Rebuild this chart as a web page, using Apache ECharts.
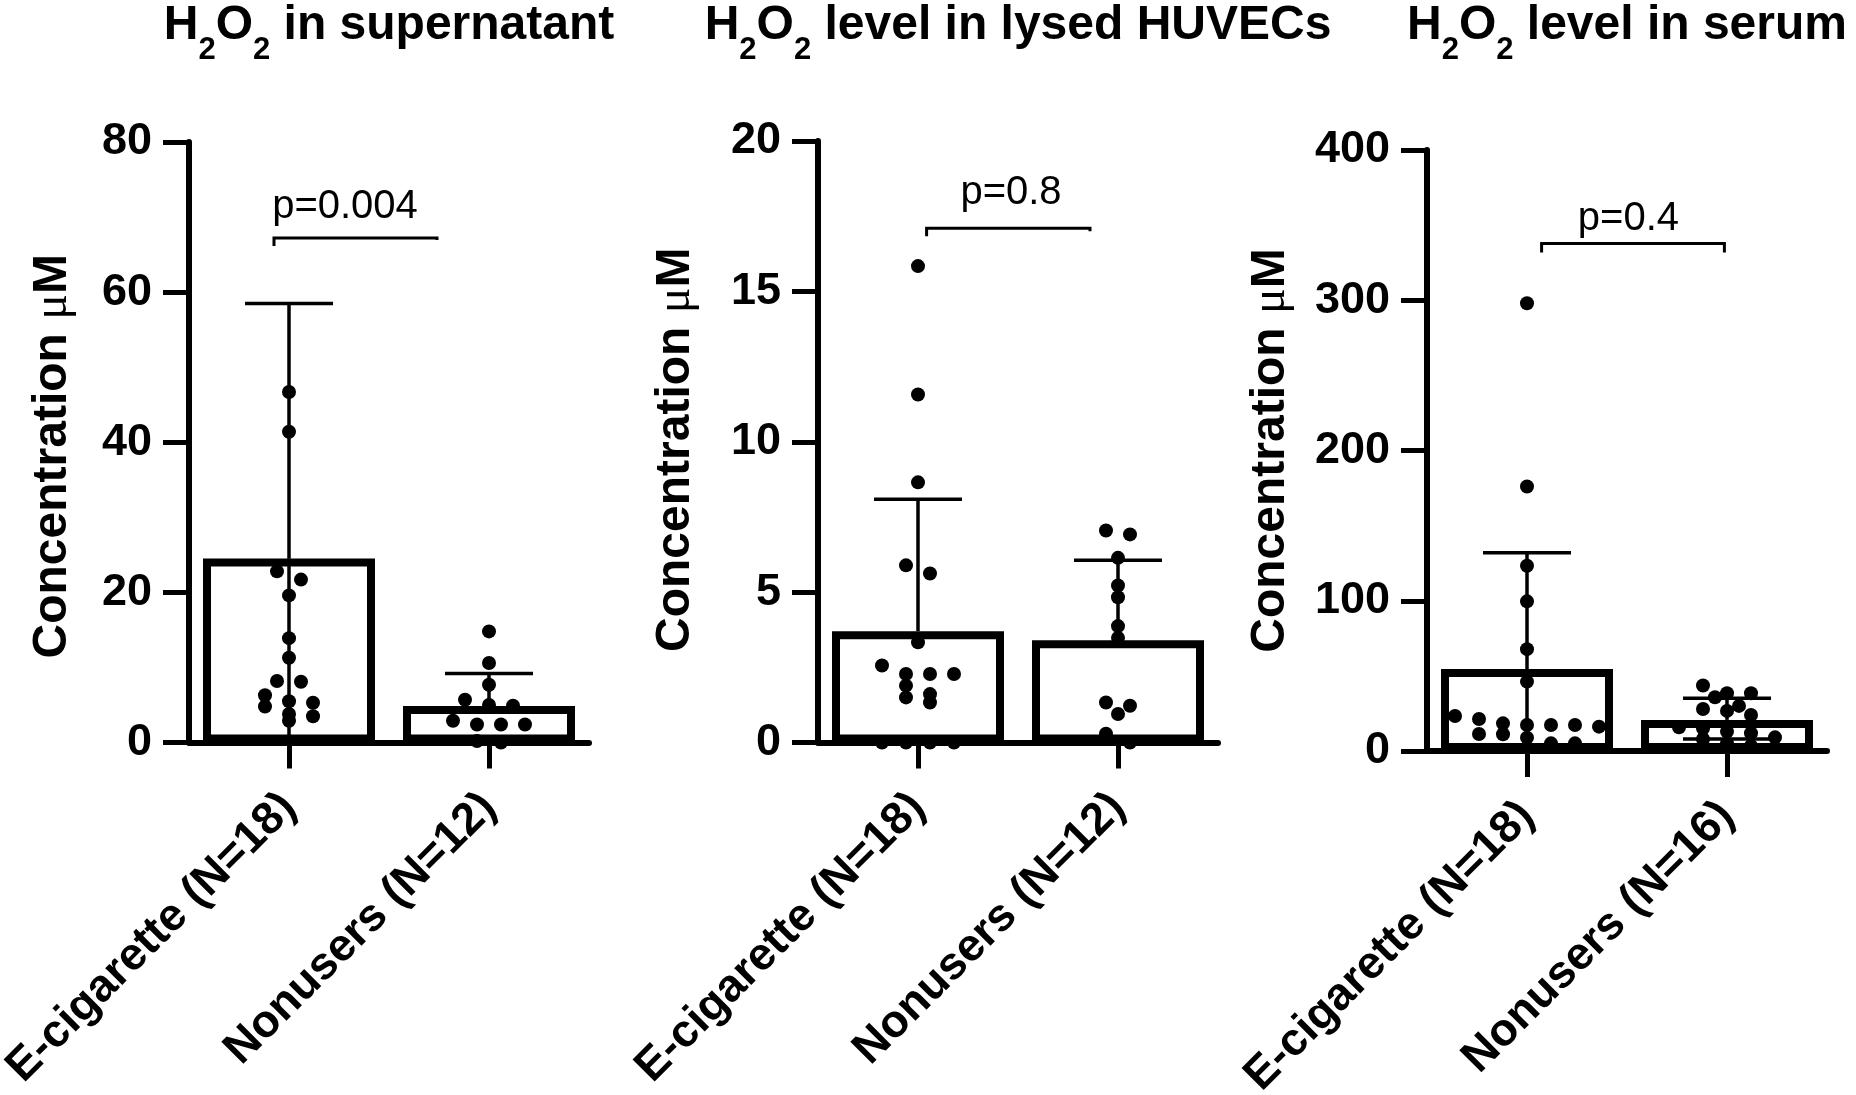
<!DOCTYPE html>
<html>
<head>
	<meta charset="UTF-8">
	<title>H2O2 levels</title>
	<script src="https://cdn.jsdelivr.net/npm/echarts@6/dist/echarts.min.js"></script>
	<style>
		html, body { margin: 0; padding: 0; background: #fff; }
		#main { width: 1856px; height: 1095px; }
	</style>
</head>
<body>
<div id="main"></div>
<script>
	// ---- values ----
	var titles = ['H2O2 in supernatant', 'H2O2 level in lysed HUVECs', 'H2O2 level in serum'];

	var catsSupernatant = ['E-cigarette (N=18)', 'Nonusers (N=12)'];
	var catsLysed = ['E-cigarette (N=18)', 'Nonusers (N=12)'];
	var catsSerum = ['E-cigarette (N=18)', 'Nonusers (N=16)'];

	var ticksSupernatant = [0, 20, 40, 60, 80];
	var ticksLysed = [0, 5, 10, 15, 20];
	var ticksSerum = [0, 100, 200, 300, 400];

	// supernatant
	var supEcig = [46.7, 41.4, 22.8, 21.7, 19.6, 13.9, 11.3, 8.2, 8.1, 6.3, 5.5, 5.3, 4.8, 3.8, 3.5, 2.9];
	var supNon = [14.8, 10.6, 7.7, 5.7, 5.0, 4.9, 2.9, 2.4, 2.4, 2.4, 0.2, 0];
	var supMean = [24.5, 4.87];
	var supErrHigh = [58.5, 9.2];
	var supErrLow = [0, null];
	var supP = 'p=0.004';

	// lysed HUVECs
	var lysEcig = [15.84, 11.57, 8.65, 5.89, 5.62, 3.33, 2.56, 2.28, 2.28, 2.28, 1.89, 1.61, 1.50, 1.33, 0, 0, 0, 0];
	var lysNon = [7.05, 6.92, 6.14, 5.22, 4.83, 3.87, 3.48, 1.33, 1.22, 0.95, 0.29, 0];
	var lysMean = [3.70, 3.40];
	var lysErrHigh = [8.09, 6.06];
	var lysErrLow = [null, null];
	var lysP = 'p=0.8';

	// serum
	var serEcig = [298, 176, 123.3, 99.6, 67.8, 46.2, 23.3, 21.3, 18.4, 17.3, 17.3, 17.3, 16.2, 11.3, 11.1, 8.9, 5.1, 5.1];
	var serNon = [43.6, 38.4, 38.4, 35.8, 30, 28, 26.7, 24, 15.8, 15.1, 12.9, 11.8, 9.1, 8, 5.1, 3.3];
	var serMean = [54.5, 20.7];
	var serErrHigh = [132, 35.1];
	var serErrLow = [0, 8.0];
	var serP = 'p=0.4';

	// ---- layout ----
	var FONT = 'Liberation Sans, Arial, Helvetica, sans-serif';
	var DOT = 14;      // dot size
	var COL = 24;      // horizontal spacing of dots in a row
	var ROW = 11;      // dots closer than this (px) share a row

	var panels = [
		{ cats: catsSupernatant, ticks: ticksSupernatant, dots: [supEcig, supNon], mean: supMean, hi: supErrHigh, lo: supErrLow, p: supP,
		  left: 189, top: 142, height: 600.5, nameGap: 112, nameShift: 14, titleX: 389,
		  br: { x0: -0.075, x1: 0.74, y: 67.2, dropL: 8, dropR: 2, tx: 0.28, ty: 11 } },
		{ cats: catsLysed, ticks: ticksLysed, dots: [lysEcig, lysNon], mean: lysMean, hi: lysErrHigh, lo: lysErrLow, p: lysP,
		  left: 818, top: 141, height: 601.5, nameGap: 118, nameShift: 8, titleX: 1018,
		  br: { x0: 0.043, x1: 0.86, y: 17.1, dropL: 8, dropR: 3, tx: 0.465, ty: 15 } },
		{ cats: catsSerum, ticks: ticksSerum, dots: [serEcig, serNon], mean: serMean, hi: serErrHigh, lo: serErrLow, p: serP,
		  left: 1427, top: 150, height: 601, nameGap: 132, nameShift: 0, titleX: 1627,
		  br: { x0: 0.073, x1: 0.987, y: 337.8, dropL: 9, dropR: 9, tx: 0.507, ty: 4 } }
	];

	// simple row-based swarm, like the GraphPad scatter
	function swarm(values, cat, pxPerUnit) {
		var sorted = values.slice().sort(function (a, b) { return b - a; });
		var rows = [];
		sorted.forEach(function (v) {
			var row = rows[rows.length - 1];
			if (row && (row[0] - v) * pxPerUnit < ROW) row.push(v);
			else rows.push([v]);
		});
		var out = [];
		rows.forEach(function (row) {
			row.forEach(function (v, i) {
				out.push({ value: [cat, v], symbolOffset: [(i - (row.length - 1) / 2) * COL, 0] });
			});
		});
		return out;
	}

	function richTitle(t) {
		return t.replace('H2O2', '{b|H}{s|2}{b|O}{s|2}{b|') + '}';
	}

	var option = {
		animation: false,
		backgroundColor: '#fff',
		grid: [], xAxis: [], yAxis: [], series: [],
		graphic: []
	};

	panels.forEach(function (p, i) {
		var yMin = p.ticks[0], yMax = p.ticks[p.ticks.length - 1];
		option.grid.push({ left: p.left, top: p.top, width: 400, height: p.height, containLabel: false, outerBoundsMode: 'none' });
		option.xAxis.push({
			type: 'category', gridIndex: i, data: p.cats,
			axisLine: { show: true, lineStyle: { color: '#000', width: 6 } },
			axisTick: { show: true, alignWithLabel: true, length: 26, lineStyle: { color: '#000', width: 5 } },
			axisLabel: { interval: 0, rotate: 45, margin: 58, color: '#000', fontSize: 45.5, fontWeight: 'bold', fontFamily: FONT },
			splitLine: { show: false }
		});
		option.yAxis.push({
			type: 'value', gridIndex: i, min: yMin, max: yMax, interval: p.ticks[1] - p.ticks[0],
			name: '{a|Concentration }{mu|μ}{a|M}', nameLocation: 'middle', nameGap: p.nameGap,
			nameTextStyle: {
				color: '#000', fontSize: 48, fontWeight: 'bold', fontFamily: FONT,
				padding: [0, p.nameShift * 2, 0, 0],
				rich: {
					a: { color: '#000', fontSize: 48, fontWeight: 'bold', fontFamily: FONT },
					mu: { color: '#000', fontSize: 48, fontWeight: 'normal', fontFamily: 'Liberation Serif, serif' }
				}
			},
			axisLine: { show: true, lineStyle: { color: '#000', width: 6 } },
			axisTick: { show: true, length: 26, lineStyle: { color: '#000', width: 5 } },
			axisLabel: { margin: 37, color: '#000', fontSize: 45, fontWeight: 'bold', fontFamily: FONT },
			splitLine: { show: false }
		});

		option.series.push({
			type: 'bar', xAxisIndex: i, yAxisIndex: i, data: p.mean, barWidth: 172, z: 2,
			itemStyle: { color: '#fff', borderColor: '#000', borderWidth: 8 }
		});

		option.series.push({
			type: 'custom', xAxisIndex: i, yAxisIndex: i, z: 3,
			data: p.mean.map(function (m, k) { return [k, m, p.hi[k], p.lo[k] == null ? NaN : p.lo[k]]; }),
			renderItem: function (params, api) {
				var cat = api.value(0);
				var pm = api.coord([cat, api.value(1)]);
				var ph = api.coord([cat, api.value(2)]);
				var st = { stroke: '#000', lineWidth: 3.5 };
				var ch = [
					{ type: 'line', shape: { x1: pm[0], y1: pm[1], x2: ph[0], y2: ph[1] }, style: st },
					{ type: 'line', shape: { x1: ph[0] - 44, y1: ph[1], x2: ph[0] + 44, y2: ph[1] }, style: st }
				];
				var lo = api.value(3);
				if (!isNaN(lo)) {
					var pl = api.coord([cat, lo]);
					ch.push({ type: 'line', shape: { x1: pm[0], y1: pm[1], x2: pl[0], y2: pl[1] }, style: st });
					if (lo > yMin) ch.push({ type: 'line', shape: { x1: pl[0] - 44, y1: pl[1], x2: pl[0] + 44, y2: pl[1] }, style: st });
				}
				return { type: 'group', children: ch };
			}
		});

		var ppu = p.height / (yMax - yMin);
		option.series.push({
			type: 'scatter', xAxisIndex: i, yAxisIndex: i, z: 4, symbolSize: DOT,
			itemStyle: { color: '#000', opacity: 1 },
			data: swarm(p.dots[0], 0, ppu).concat(swarm(p.dots[1], 1, ppu))
		});

		var br = p.br;
		option.series.push({
			type: 'custom', xAxisIndex: i, yAxisIndex: i, z: 4,
			data: [[0, br.y]],
			renderItem: function (params, api) {
				var a = api.coord([0, api.value(1)]);
				var b = api.coord([1, api.value(1)]);
				var span = b[0] - a[0];
				var x0 = a[0] + br.x0 * span, x1 = a[0] + br.x1 * span, y = a[1];
				return { type: 'group', children: [
					{ type: 'polyline', shape: { points: [[x0, y + br.dropL], [x0, y], [x1, y], [x1, y + br.dropR]] },
					  style: { stroke: '#000', lineWidth: 3, fill: 'none' } },
					{ type: 'text', x: a[0] + br.tx * span, y: y - br.ty,
					  style: { text: p.p, fontSize: 40, fontFamily: FONT, fill: '#000', align: 'center', verticalAlign: 'bottom' } }
				] };
			}
		});

		option.graphic.push({
			type: 'text', x: p.titleX, y: -14,
			style: {
				text: richTitle(titles[i]), align: 'center', verticalAlign: 'top', fill: '#000', fontFamily: FONT,
				rich: {
					b: { fontSize: 48, fontWeight: 'bold', fontFamily: FONT, lineHeight: 80, fill: '#000' },
					s: { fontSize: 31, fontWeight: 'bold', fontFamily: FONT, lineHeight: 36, verticalAlign: 'bottom', fill: '#000' }
				}
			}
		});
	});

	var myChart = echarts.init(document.getElementById('main'));
	myChart.setOption(option);
</script>
</body>
</html>
